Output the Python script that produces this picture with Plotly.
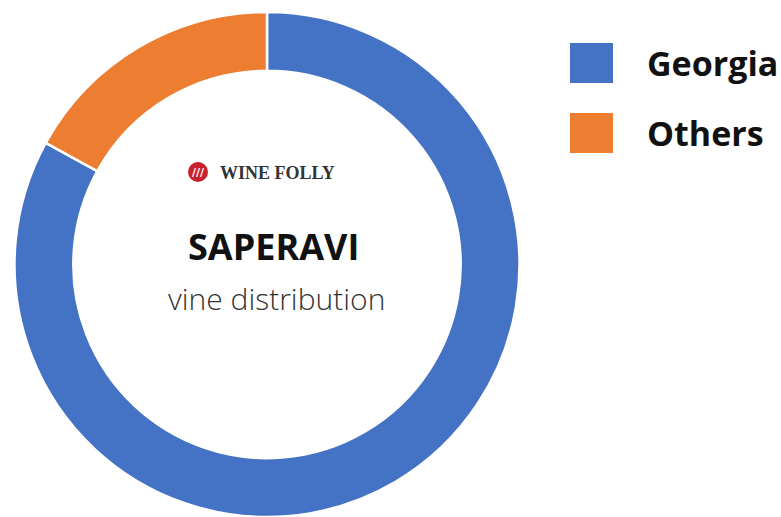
import plotly.graph_objects as go

labels = ["Georgia", "Others"]
values = [83, 17]
colors = ["#4472C4", "#ED7D31"]

W, H = 781, 517
T = 12


def px(x):
    return x / W


def py(y):
    return 1 - (y - T) / (H - T)


fig = go.Figure()
fig.add_trace(go.Pie(
    labels=labels, values=values, sort=False, direction="clockwise", rotation=0,
    hole=0.767, marker=dict(colors=colors, line=dict(color="white", width=2.5)),
    textinfo="none", hoverinfo="label+percent", showlegend=False,
    domain=dict(x=[0, 534 / W], y=[0, 1]),
))


def note(x, y, text, font, xanchor="center"):
    fig.add_annotation(x=px(x), y=py(y), xref="paper", yref="paper", text=text,
                       showarrow=False, xanchor=xanchor, yanchor="middle", font=font)


# center text
note(273, 247, "<b>SAPERAVI</b>", dict(family="Open Sans", size=36, color="#111111"))
note(276, 298, "vine distribution", dict(family="Open Sans", size=30, color="#333333", weight=300))
# logo
fig.add_shape(type="circle", xref="paper", yref="paper",
              x0=px(188), x1=px(208), y0=py(182), y1=py(162),
              fillcolor="#C8202C", line=dict(width=0))
note(198, 172, "<b>///</b>", dict(family="DejaVu Sans", size=11, color="white"))
note(277, 173, "<b>WINE FOLLY</b>", dict(family="Liberation Serif", size=18, color="#333333"))

# legend
leg_y = [63, 133]
for lab, col, yc in zip(labels, colors, leg_y):
    fig.add_shape(type="rect", xref="paper", yref="paper",
                  x0=px(570), x1=px(613), y0=py(yc + 20), y1=py(yc - 20),
                  fillcolor=col, line=dict(width=0))
    note(645, yc, f"<b>{lab}</b>", dict(family="Open Sans", size=34, color="#111111"), xanchor="left")

fig.update_layout(width=W, height=H, margin=dict(l=0, r=0, t=T, b=0),
                  paper_bgcolor="white", plot_bgcolor="white")
fig.write_html("out.html", config={"displayModeBar": False},
               post_script="document.body.style.margin='0';")
